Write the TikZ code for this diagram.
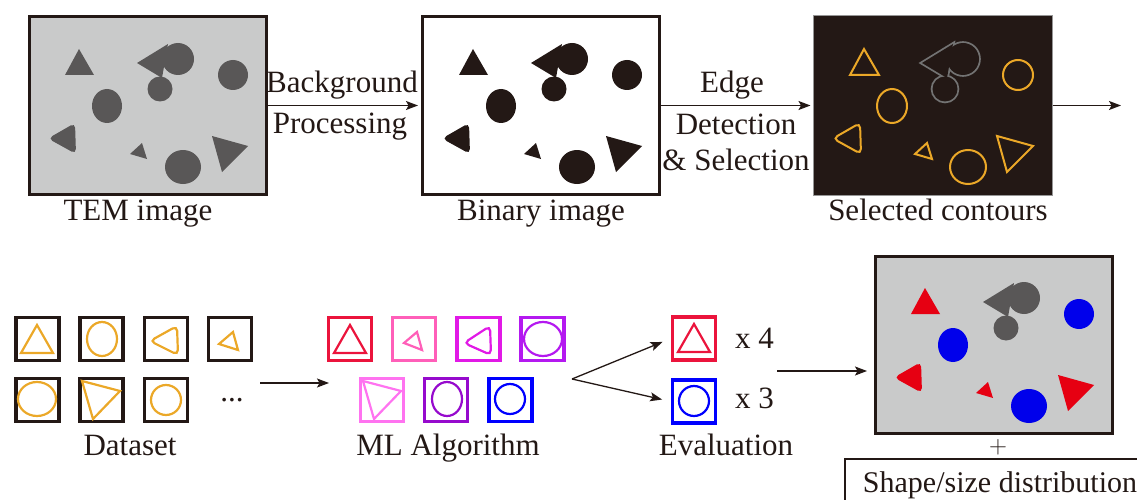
\documentclass[tikz,border=0pt]{standalone}
\usepackage{fontspec}
\setmainfont{Liberation Serif}
\usetikzlibrary{arrows.meta}
\definecolor{ink}{RGB}{35,24,21}
\definecolor{bggray}{RGB}{201,202,202}
\definecolor{pgray}{RGB}{89,87,87}
\definecolor{orng}{RGB}{235,168,40}
\definecolor{outgray}{RGB}{115,115,115}
\definecolor{edgegray}{RGB}{150,150,150}
\definecolor{pred}{RGB}{230,0,18}
\definecolor{pblue}{RGB}{0,0,235}
\definecolor{mA}{RGB}{235,20,60}
\definecolor{mB}{RGB}{255,95,185}
\definecolor{mC}{RGB}{225,25,230}
\definecolor{mD}{RGB}{180,25,240}
\definecolor{mE}{RGB}{255,115,240}
\definecolor{mF}{RGB}{150,10,205}
\definecolor{mG}{RGB}{0,0,255}
\tikzset{
  ptri/.style={}, pcirc/.style={},
  panel/.style={draw=ink, line width=3pt, minimum width=237pt, minimum height=177pt, inner sep=0pt},
  dsq/.style={draw=ink, line width=3.2pt, minimum size=43pt, inner sep=0pt},
  msq/.style={draw=#1, line width=3.2pt, minimum size=43pt, inner sep=0pt},
  shp/.style={draw=#1, line width=2.2pt, line join=miter},
  lbl/.style={anchor=base, inner sep=0pt, text=ink},
  arr/.style={draw=ink, line width=1.3pt, -{Stealth[length=12pt,width=9pt,inset=2.5pt]}},
}
\newcommand\particleset{%
  \path[ptri] (65,75) -- (94,75) -- (79,49) -- cycle;
  \path[pcirc] (233,75) circle[radius=15];
  \path[pcirc] (107,106) circle[x radius=15,y radius=17];
  \path[ptri,rounded corners=5pt] (48,138.5) -- (75,123) -- (76,154) -- cycle;
  \path[ptri] (130,154) -- (142,143) -- (147,159) -- cycle;
  \path[pcirc] (183,167) circle[x radius=18,y radius=17];
  \path[ptri] (212,136) -- (248,146) -- (222,172) -- cycle;
}
\newcommand\blobset[1]{%
  \path[#1] (178,59) circle[radius=16];
  \path[#1] (137,63) -- (168,44) -- (162,78) -- cycle;
  \path[#1] (160,89) circle[radius=12.5];
}
\begin{document}
\begin{tikzpicture}[x=1pt,y=-1pt,font=\fontsize{31}{36}\selectfont]
\useasboundingbox (0,0) rectangle (1137,500);

% ---------- top row panels ----------
\node[panel, fill=bggray] (tem) at (147.5,105.5) {};
\begin{scope}[ptri/.style={fill=pgray}, pcirc/.style={fill=pgray}]
  \particleset
  \blobset{fill=pgray}
\end{scope}

\node[panel, fill=white] (bin) at (541,105.5) {};
\begin{scope}[shift={(394,0)}, ptri/.style={fill=ink}, pcirc/.style={fill=ink}]
  \particleset
  \blobset{fill=ink}
\end{scope}

\node[panel, fill=ink, draw=edgegray, line width=1pt, minimum width=239pt, minimum height=179pt] (sel) at (932.5,105.5) {};
\begin{scope}[shift={(785,0)}, ptri/.style={draw=orng, line width=2pt}, pcirc/.style={draw=orng, line width=2pt}]
  \particleset
  \blobset{draw=outgray, line width=3.6pt}
  \blobset{fill=ink}
\end{scope}

% labels
\node[lbl] (ltem) at (138,220) {TEM image};
\node[lbl] (lbin) at (541,220) {Binary image};
\node[lbl] (lsel) at (938,220) {Selected contours};

% arrows
\draw[arr, shorten >=3pt] (tem.east) -- (bin.west);
\node[lbl] (bg1) at (342,93) {Background};
\node[lbl] (bg2) at (340,134) {Processing};
\draw[arr, shorten >=2pt] (bin.east) -- (sel.west);
\node[lbl] (ed1) at (732,93) {Edge};
\node[lbl] (ed2) at (736,135) {Detection};
\node[lbl] (ed3) at (736,170) {\& Selection};
\coordinate (outA) at (1121,105.5);
\draw[arr] (sel.east) -- (outA);

% ---------- dataset ----------
\node[dsq] (d1) at (37.5,339) {};
\node[dsq] (d2) at (101.5,339) {};
\node[dsq] (d3) at (166,339) {};
\node[dsq] (d4) at (230,339) {};
\node[dsq] (d5) at (37.5,400) {};
\node[dsq] (d6) at (101.5,400) {};
\node[dsq] (d7) at (166,400) {};
\draw[shp=orng] (21,353) -- (53,353) -- (37,325) -- cycle;
\draw[shp=orng] (102,339) circle[x radius=15,y radius=17];
\draw[shp=orng, rounded corners=5pt] (150,341) -- (177,326) -- (178,355) -- cycle;
\draw[shp=orng] (219,344) -- (233,332) -- (238,350) -- cycle;
\draw[shp=orng] (37,399) circle[x radius=19,y radius=17];
\draw[shp=orng] (82,381) -- (120,391) -- (93,419) -- cycle;
\draw[shp=orng] (166,400) circle[radius=15];
\node[lbl] (dots) at (232,401) {...};
\node[lbl] (ldata) at (130,455) {Dataset};

\coordinate (dsA) at (260,383);
\coordinate (dsB) at (329,383);
\draw[arr] (dsA) -- (dsB);

% ---------- ML algorithm ----------
\node[msq=mA] (m1) at (350,339) {};
\node[msq=mB] (m2) at (414,339) {};
\node[msq=mC] (m3) at (478.5,339) {};
\node[msq=mD] (m4) at (542.5,339) {};
\node[msq=mE] (m5) at (382,400) {};
\node[msq=mF] (m6) at (446,400) {};
\node[msq=mG] (m7) at (510.5,400) {};
\draw[shp=mA] (334,353) -- (366,353) -- (350,325) -- cycle;
\draw[shp=mB] (404,343) -- (417,332) -- (422,350) -- cycle;
\draw[shp=mC, rounded corners=5pt] (464,343) -- (490,326) -- (491,355) -- cycle;
\draw[shp=mD] (543,339) circle[x radius=19,y radius=17];
\draw[shp=mE] (363,381) -- (401,391) -- (374,419) -- cycle;
\draw[shp=mF] (447,399) circle[x radius=15,y radius=17];
\draw[shp=mG] (510,399) circle[radius=15];
\node[lbl] (lml) at (448,455) {ML Algorithm};

% ---------- evaluation ----------
\coordinate (fork) at (572,379);
\node[msq=mA] (e1) at (694,338.5) {};
\node[msq=mG] (e2) at (694,401.5) {};
\draw[shp=mA] (678,352) -- (710,352) -- (694,324) -- cycle;
\draw[shp=mG] (694,401) circle[radius=15];
\draw[arr, shorten >=9pt] (fork) -- (e1.west);
\draw[arr, shorten >=9pt] (fork) -- (e2.west);
\node[lbl] (x4) at (754.5,348) {x 4};
\node[lbl] (x3) at (754.5,408) {x 3};
\node[lbl] (leval) at (726,455) {Evaluation};

\coordinate (evA) at (777,371);
\coordinate (evB) at (867,371);
\draw[arr] (evA) -- (evB);

% ---------- result ----------
\node[panel, fill=bggray] (res) at (993.5,345) {};
\begin{scope}[shift={(846,239)}, ptri/.style={fill=pred}, pcirc/.style={fill=pblue}]
  \particleset
  \blobset{fill=pgray}
\end{scope}
\node[inner sep=0pt, text=ink, font=\fontsize{28}{32}\selectfont] (plus) at (998,447) {$+$};
\node[draw=ink, line width=2pt, anchor=north west, inner xsep=8pt, inner ysep=0pt,
      text height=33pt, text depth=15pt, minimum width=310pt, text=ink,
      font=\fontsize{30}{34}\selectfont] (dist) at (844,458) {Shape/size distribution};
\end{tikzpicture}
\end{document}
